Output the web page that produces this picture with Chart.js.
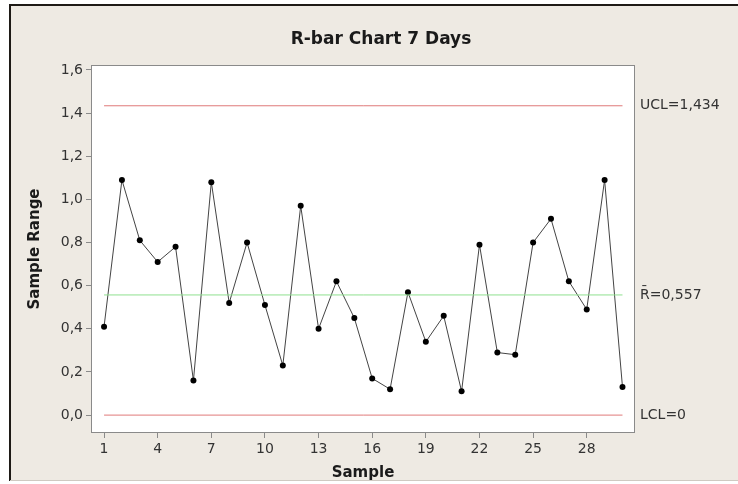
<!DOCTYPE html>
<html>
<head>
<meta charset="utf-8">
<script src="https://cdn.jsdelivr.net/npm/chart.js@4.4.0/dist/chart.umd.min.js"></script>
<style>
  html, body { margin: 0; padding: 0; background: #fff; }
  #wrap { width: 738px; height: 484px; position: relative; }
</style>
</head>
<body>
<div id="wrap"><canvas id="rbar"></canvas></div>
<script>
// sample ranges
const samples = [1,2,3,4,5,6,7,8,9,10,11,12,13,14,15,16,17,18,19,20,21,22,23,24,25,26,27,28,29,30];
const ranges = [0.41,1.09,0.81,0.71,0.78,0.16,1.08,0.52,0.80,0.51,0.23,0.97,0.40,0.62,0.45,0.17,0.12,0.57,0.34,0.46,0.11,0.79,0.29,0.28,0.80,0.91,0.62,0.49,1.09,0.13];

const UCL = 1.434;
const RBAR = 0.557;
const LCL = 0;

const xTicks = [1,4,7,10,13,16,19,22,25,28];
const yTicks = [0,0.2,0.4,0.6,0.8,1.0,1.2,1.4,1.6];

const comma = v => v.toFixed(1).replace('.', ',');
const first = samples[0], last = samples[samples.length - 1];
const limitLine = v => [{x: first, y: v}, {x: last, y: v}];

// background, window edges and the plot frame
const framePlugin = {
    id: 'frame',
    beforeDraw(chart) {
        const c = chart.ctx, a = chart.chartArea;
        c.save();
        c.fillStyle = '#ffffff';
        c.fillRect(0, 0, chart.width, chart.height);
        c.fillStyle = '#eeeae3';
        c.fillRect(10, 5, 728, 476);
        c.fillStyle = '#1e1a16';
        c.fillRect(9, 4, 729, 2);   // top edge
        c.fillRect(9, 4, 2, 477);   // left edge
        c.fillStyle = '#cfcac2';
        c.fillRect(10, 480, 728, 1);
        c.fillStyle = '#ffffff';
        c.fillRect(a.left, a.top, a.right - a.left, a.bottom - a.top);
        c.restore();
    },
    afterDatasetsDraw(chart) {
        const c = chart.ctx, a = chart.chartArea;
        c.save();
        c.strokeStyle = '#8a8a8a';
        c.lineWidth = 1;
        c.strokeRect(a.left + 0.5, a.top + 0.5, a.right - a.left - 1, a.bottom - a.top - 1);
        c.restore();
    }
};

const tickFont = {family: 'DejaVu Sans', size: 14};

new Chart(document.getElementById('rbar'), {
    type: 'line',
    data: {
        datasets: [
            {
                label: 'UCL',
                data: limitLine(UCL),
                borderColor: '#e07a7a',
                borderWidth: 1,
                pointRadius: 0
            },
            {
                label: 'Rbar',
                data: limitLine(RBAR),
                borderColor: '#8fe08f',
                borderWidth: 1,
                pointRadius: 0
            },
            {
                label: 'LCL',
                data: limitLine(LCL),
                borderColor: '#e07a7a',
                borderWidth: 1,
                pointRadius: 0
            },
            {
                label: 'Range',
                data: samples.map((s, i) => ({x: s, y: ranges[i]})),
                borderColor: '#444444',
                borderWidth: 1,
                pointRadius: 3,
                pointBackgroundColor: '#000',
                pointBorderColor: '#000',
                pointBorderWidth: 0
            }
        ]
    },
    options: {
        responsive: true,
        maintainAspectRatio: false,
        animation: false,
        layout: { padding: { left: 24, right: 0, top: 0, bottom: 0 } },
        plugins: {
            legend: { display: false },
            tooltip: { enabled: false },
            title: {
                display: true,
                text: 'R-bar Chart 7 Days',
                color: '#1a1a1a',
                font: {family: 'DejaVu Sans', size: 17, weight: 'bold'},
                padding: { top: 29, bottom: 15.6 }
            }
        },
        scales: {
            x: {
                type: 'linear',
                min: 0.27,
                max: 30.7,
                afterBuildTicks: s => { s.ticks = xTicks.map(v => ({value: v})); },
                afterFit: s => { s.height = 51; },
                grid: { drawOnChartArea: false, drawTicks: true, tickLength: 5, color: '#8a8a8a' },
                border: { display: false },
                ticks: { autoSkip: false, maxRotation: 0, padding: 3, color: '#333333', font: tickFont, callback: v => v },
                title: {
                    display: true,
                    text: 'Sample',
                    color: '#1a1a1a',
                    font: {family: 'DejaVu Sans', size: 15, weight: 'bold'},
                    padding: { top: 0, bottom: 2 }
                }
            },
            y: {
                min: -0.083,
                max: 1.623,
                afterBuildTicks: s => { s.ticks = yTicks.map(v => ({value: v})); },
                afterFit: s => { s.width = 67; },
                grid: { drawOnChartArea: false, drawTicks: true, tickLength: 5, color: '#8a8a8a' },
                border: { display: false },
                ticks: { autoSkip: false, padding: 3, color: '#333333', font: tickFont, callback: v => comma(v) },
                title: {
                    display: true,
                    text: 'Sample Range',
                    color: '#1a1a1a',
                    font: {family: 'DejaVu Sans', size: 15, weight: 'bold'},
                    padding: { top: 2, bottom: 0 }
                }
            },
            // right side: control limit labels
            y2: {
                position: 'right',
                min: -0.083,
                max: 1.623,
                afterBuildTicks: s => { s.ticks = [LCL, RBAR, UCL].map(v => ({value: v})); },
                afterFit: s => { s.width = 103; },
                grid: { display: false, drawTicks: false, tickLength: 0 },
                border: { display: false },
                ticks: {
                    autoSkip: false,
                    padding: 5,
                    color: '#333333',
                    font: tickFont,
                    callback: v => {
                        if (v === UCL) return 'UCL=' + String(UCL).replace('.', ',');
                        if (v === RBAR) return 'R\u0304=' + String(RBAR).replace('.', ',');
                        return 'LCL=' + LCL;
                    }
                }
            }
        }
    },
    plugins: [framePlugin]
});
</script>
</body>
</html>
